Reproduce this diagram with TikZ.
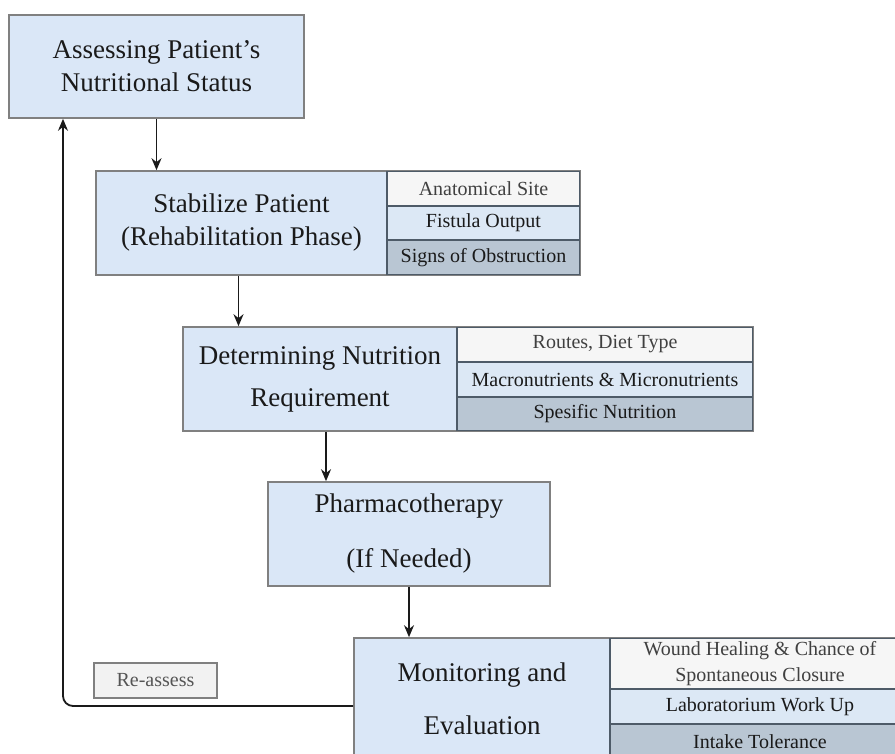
\documentclass[tikz,border=0pt]{standalone}
\usepackage{fontspec}
\setmainfont{Liberation Serif}
\usetikzlibrary{arrows.meta}
\definecolor{mainfill}{HTML}{DAE7F7}
\definecolor{rowA}{HTML}{F6F6F6}
\definecolor{rowB}{HTML}{DCE8F5}
\definecolor{rowC}{HTML}{B9C6D3}
\definecolor{edge}{HTML}{808080}
\definecolor{divline}{HTML}{4E5B68}
\definecolor{ink}{HTML}{1A1A1A}
\definecolor{reink}{HTML}{555555}
\definecolor{refill}{HTML}{F2F2F2}
\begin{document}
\begin{tikzpicture}[x=1pt,y=-1pt,
  mainbox/.style={draw=edge, line width=1.6pt, fill=mainfill, inner sep=0pt,
    align=center, text=ink, font=\fontsize{27}{33}\selectfont},
  subcell/.style={draw=divline, line width=1.3pt, inner sep=0pt, align=center,
    text=ink, font=\fontsize{20}{26}\selectfont},
  rowa/.style={subcell, fill=rowA, text=black!75},
  rowb/.style={subcell, fill=rowB, text=ink},
  rowc/.style={subcell, fill=rowC, text=ink},
  tagbox/.style={draw=edge, line width=1.4pt, fill=refill, inner sep=0pt,
    text=reink, font=\fontsize{20}{24}\selectfont},
  arr/.style={draw=ink, line width=1.8pt, -{Stealth[length=12pt,width=10pt]}}
]
\useasboundingbox (0,0) rectangle (895,754);

% Box 1
\node[mainbox, minimum width=295pt, minimum height=103pt] (assess) at (156.5,66.5)
  {Assessing Patient's\\Nutritional Status};

% Stabilize
\node[mainbox, minimum width=291pt, minimum height=104pt] (stab) at (241.5,223)
  {Stabilize Patient\\(Rehabilitation Phase)};
\node[rowa, minimum width=193pt, minimum height=35pt] (stabA) at (483.5,188.5) {Anatomical Site};
\node[rowb, minimum width=193pt, minimum height=34pt] (stabB) at (483.5,223) {Fistula Output};
\node[rowc, minimum width=193pt, minimum height=35pt] (stabC) at (483.5,257.5) {Signs of Obstruction};
\draw[edge, line width=1.6pt] (stabA.north west) -- (stabA.north east) -- (stabC.south east) -- (stabC.south west);

% Determining
\node[mainbox, minimum width=274pt, minimum height=104pt,
  font=\fontsize{27}{42}\selectfont] (det) at (320,379)
  {Determining Nutrition\\Requirement};
\node[rowa, minimum width=296pt, minimum height=35pt] (detA) at (605,344.5) {Routes, Diet Type};
\node[rowb, minimum width=296pt, minimum height=35pt] (detB) at (605,379.5) {Macronutrients \& Micronutrients};
\node[rowc, minimum width=296pt, minimum height=34pt] (detC) at (605,414) {Spesific Nutrition};
\draw[edge, line width=1.6pt] (detA.north west) -- (detA.north east) -- (detC.south east) -- (detC.south west);

% Pharmacotherapy
\node[mainbox, minimum width=282pt, minimum height=104pt,
  font=\fontsize{27}{55}\selectfont] (pharma) at (409,534)
  {Pharmacotherapy\\(If Needed)};

% Monitoring
\node[mainbox, minimum width=256pt, minimum height=122pt,
  font=\fontsize{27}{53}\selectfont] (mon) at (482,699)
  {Monitoring and\\Evaluation};
\node[rowa, minimum width=300pt, minimum height=51pt,
  font=\fontsize{20}{26}\selectfont] (monA) at (760,663.5)
  {Wound Healing \& Chance of\\Spontaneous Closure};
\node[rowb, minimum width=300pt, minimum height=35pt] (monB) at (760,706.5) {Laboratorium Work Up};
\node[rowc, minimum width=300pt, minimum height=36pt] (monC) at (760,742) {Intake Tolerance};
\draw[edge, line width=1.6pt] (monA.north west) -- (monA.north east);

% Re-assess tag
\node[tagbox, minimum width=123pt, minimum height=35pt] (tag) at (155.5,680.5) {Re-assess};

% Connectors
\draw[arr] (assess.south) -- (assess.south |- stab.north);
\draw[arr] ([xshift=-3pt]stab.south) -- ([xshift=-3pt]stab.south |- det.north);
\draw[arr] ([xshift=6pt]det.south) -- ([xshift=6pt]det.south |- pharma.north);
\draw[arr] (pharma.south) -- (pharma.south |- mon.north);
\coordinate (loopcorner) at ([xshift=-93.5pt]assess.south |- mon.west);
\draw[arr, rounded corners=10pt] ([yshift=-7pt]mon.west) -- ([yshift=-7pt]loopcorner) -- ([xshift=-93.5pt]assess.south);
\end{tikzpicture}
\end{document}
